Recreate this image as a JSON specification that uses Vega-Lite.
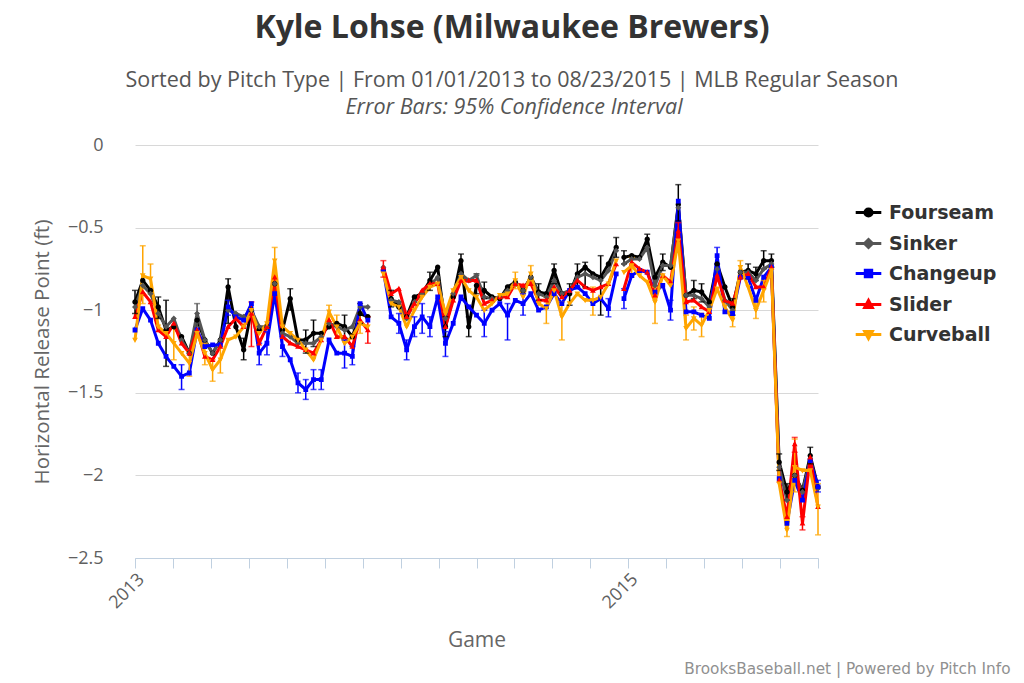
{
"$schema": "https://vega.github.io/schema/vega-lite/v6.json",
"width": 683, "height": 413,
"autosize": {"type": "none"},
"padding": {"left": 135, "top": 145, "right": 206, "bottom": 125},
"background": "white",
"config": {"view": {"stroke": null}, "font": "DejaVu Sans"},
"title": {"text": "Kyle Lohse (Milwaukee Brewers)", "subtitle": "Sorted by Pitch Type | From 01/01/2013 to 08/23/2015 | MLB Regular Season", "anchor": "middle", "dx": 35.5, "font": "Open Sans", "fontSize": 32, "fontWeight": "bold", "color": "#333333", "subtitleFont": "Open Sans", "subtitleFontSize": 21.5, "subtitleColor": "#555555", "subtitlePadding": 25, "offset": 4},
"datasets": {
"games": [
{"g":0,"s":2013,"Fourseam":-0.95,"Sinker":-0.98,"Changeup":-1.12,"Slider":-1.04,"Curveball":-1.18},
{"g":1,"s":2013,"Fourseam":-0.82,"Sinker":-0.85,"Changeup":-0.99,"Slider":-0.89,"Curveball":-0.79},
{"g":2,"s":2013,"Fourseam":-0.88,"Sinker":-0.9,"Changeup":-1.06,"Slider":-0.95,"Curveball":-0.81},
{"g":3,"s":2013,"Fourseam":-0.98,"Sinker":-1.02,"Changeup":-1.2,"Slider":-1.12,"Curveball":-1.1},
{"g":4,"s":2013,"Fourseam":-1.12,"Sinker":-1.1,"Changeup":-1.28,"Slider":-1.16,"Curveball":-1.14},
{"g":5,"s":2013,"Fourseam":-1.1,"Sinker":-1.05,"Changeup":-1.34,"Slider":-1.08,"Curveball":-1.2},
{"g":6,"s":2013,"Fourseam":-1.16,"Sinker":-1.18,"Changeup":-1.4,"Slider":-1.2,"Curveball":-1.26},
{"g":7,"s":2013,"Fourseam":-1.26,"Sinker":-1.26,"Changeup":-1.38,"Slider":-1.26,"Curveball":-1.32},
{"g":8,"s":2013,"Fourseam":-1.06,"Sinker":-1.02,"Changeup":-1.12,"Slider":-1.12,"Curveball":-1.14},
{"g":9,"s":2013,"Fourseam":-1.18,"Sinker":-1.18,"Changeup":-1.22,"Slider":-1.28,"Curveball":-1.26},
{"g":10,"s":2013,"Fourseam":-1.26,"Sinker":-1.26,"Changeup":-1.21,"Slider":-1.3,"Curveball":-1.36},
{"g":11,"s":2013,"Fourseam":-1.18,"Sinker":-1.18,"Changeup":-1.21,"Slider":-1.22,"Curveball":-1.3},
{"g":12,"s":2013,"Fourseam":-0.86,"Sinker":-1.0,"Changeup":-0.98,"Slider":-1.1,"Curveball":-1.18},
{"g":13,"s":2013,"Fourseam":-1.1,"Sinker":-1.02,"Changeup":-1.04,"Slider":-1.05,"Curveball":-1.16},
{"g":14,"s":2013,"Fourseam":-1.24,"Sinker":-1.04,"Changeup":-1.06,"Slider":-1.1,"Curveball":-1.1},
{"g":15,"s":2013,"Fourseam":-1.0,"Sinker":-1.0,"Changeup":-0.96,"Slider":-1.02,"Curveball":-1.0},
{"g":16,"s":2013,"Fourseam":-1.12,"Sinker":-1.1,"Changeup":-1.26,"Slider":-1.2,"Curveball":-1.14},
{"g":17,"s":2013,"Fourseam":-1.1,"Sinker":-1.1,"Changeup":-1.2,"Slider":-1.1,"Curveball":-1.08},
{"g":18,"s":2013,"Fourseam":-0.84,"Sinker":-0.84,"Changeup":-0.9,"Slider":-0.8,"Curveball":-0.7},
{"g":19,"s":2013,"Fourseam":-1.12,"Sinker":-1.14,"Changeup":-1.22,"Slider":-1.16,"Curveball":-1.1},
{"g":20,"s":2013,"Fourseam":-0.93,"Sinker":-1.16,"Changeup":-1.3,"Slider":-1.2,"Curveball":-1.14},
{"g":21,"s":2013,"Fourseam":-1.18,"Sinker":-1.2,"Changeup":-1.44,"Slider":-1.22,"Curveball":-1.18},
{"g":22,"s":2013,"Fourseam":-1.18,"Sinker":-1.2,"Changeup":-1.48,"Slider":-1.24,"Curveball":-1.24},
{"g":23,"s":2013,"Fourseam":-1.14,"Sinker":-1.2,"Changeup":-1.42,"Slider":-1.26,"Curveball":-1.3},
{"g":24,"s":2013,"Fourseam":-1.14,"Sinker":-1.16,"Changeup":-1.42,"Slider":-1.18,"Curveball":-1.18},
{"g":25,"s":2013,"Fourseam":-1.1,"Sinker":-1.08,"Changeup":-1.18,"Slider":-1.06,"Curveball":-1.01},
{"g":26,"s":2013,"Fourseam":-1.08,"Sinker":-1.1,"Changeup":-1.26,"Slider":-1.16,"Curveball":-1.1},
{"g":27,"s":2013,"Fourseam":-1.1,"Sinker":-1.12,"Changeup":-1.26,"Slider":-1.16,"Curveball":-1.2},
{"g":28,"s":2013,"Fourseam":-1.16,"Sinker":-1.1,"Changeup":-1.28,"Slider":-1.22,"Curveball":-1.16},
{"g":29,"s":2013,"Fourseam":-1.02,"Sinker":-0.98,"Changeup":-0.96,"Slider":-1.06,"Curveball":-1.08},
{"g":30,"s":2013,"Fourseam":-1.04,"Sinker":-0.98,"Changeup":-1.06,"Slider":-1.12,"Curveball":-1.1},
{"g":32,"s":2014,"Fourseam":-0.76,"Sinker":-0.74,"Changeup":-0.76,"Slider":-0.74,"Curveball":-0.78},
{"g":33,"s":2014,"Fourseam":-0.93,"Sinker":-0.94,"Changeup":-1.04,"Slider":-0.9,"Curveball":-0.96},
{"g":34,"s":2014,"Fourseam":-0.98,"Sinker":-0.95,"Changeup":-1.08,"Slider":-0.87,"Curveball":-0.98},
{"g":35,"s":2014,"Fourseam":-1.04,"Sinker":-1.05,"Changeup":-1.24,"Slider":-1.04,"Curveball":-1.1},
{"g":36,"s":2014,"Fourseam":-0.92,"Sinker":-0.95,"Changeup":-1.1,"Slider":-0.96,"Curveball":-1.0},
{"g":37,"s":2014,"Fourseam":-0.9,"Sinker":-0.9,"Changeup":-1.04,"Slider":-0.88,"Curveball":-0.92},
{"g":38,"s":2014,"Fourseam":-0.82,"Sinker":-0.85,"Changeup":-1.1,"Slider":-0.84,"Curveball":-0.86},
{"g":39,"s":2014,"Fourseam":-0.74,"Sinker":-0.8,"Changeup":-0.92,"Slider":-0.84,"Curveball":-0.84},
{"g":40,"s":2014,"Fourseam":-1.1,"Sinker":-1.05,"Changeup":-1.2,"Slider":-1.1,"Curveball":-1.02},
{"g":41,"s":2014,"Fourseam":-0.92,"Sinker":-0.9,"Changeup":-1.08,"Slider":-0.94,"Curveball":-0.88},
{"g":42,"s":2014,"Fourseam":-0.7,"Sinker":-0.78,"Changeup":-0.92,"Slider":-0.82,"Curveball":-0.8},
{"g":43,"s":2014,"Fourseam":-1.1,"Sinker":-0.82,"Changeup":-0.98,"Slider":-0.82,"Curveball":-0.88},
{"g":44,"s":2014,"Fourseam":-0.85,"Sinker":-0.79,"Changeup":-1.03,"Slider":-0.82,"Curveball":-0.92},
{"g":45,"s":2014,"Fourseam":-0.88,"Sinker":-0.92,"Changeup":-1.08,"Slider":-0.96,"Curveball":-1.0},
{"g":46,"s":2014,"Fourseam":-0.92,"Sinker":-0.93,"Changeup":-1.0,"Slider":-0.94,"Curveball":-0.96},
{"g":47,"s":2014,"Fourseam":-0.93,"Sinker":-0.92,"Changeup":-0.96,"Slider":-0.92,"Curveball":-0.91},
{"g":48,"s":2014,"Fourseam":-0.86,"Sinker":-0.88,"Changeup":-1.03,"Slider":-0.92,"Curveball":-0.9},
{"g":49,"s":2014,"Fourseam":-0.83,"Sinker":-0.84,"Changeup":-0.94,"Slider":-0.84,"Curveball":-0.82},
{"g":50,"s":2014,"Fourseam":-0.88,"Sinker":-0.88,"Changeup":-0.96,"Slider":-0.85,"Curveball":-0.92},
{"g":51,"s":2014,"Fourseam":-0.8,"Sinker":-0.8,"Changeup":-0.9,"Slider":-0.84,"Curveball":-0.78},
{"g":52,"s":2014,"Fourseam":-0.89,"Sinker":-0.9,"Changeup":-1.0,"Slider":-0.94,"Curveball":-0.96},
{"g":53,"s":2014,"Fourseam":-0.9,"Sinker":-0.92,"Changeup":-0.98,"Slider":-0.94,"Curveball":-0.99},
{"g":54,"s":2014,"Fourseam":-0.76,"Sinker":-0.82,"Changeup":-0.9,"Slider":-0.86,"Curveball":-0.88},
{"g":55,"s":2014,"Fourseam":-0.9,"Sinker":-0.9,"Changeup":-0.96,"Slider":-0.92,"Curveball":-1.04},
{"g":56,"s":2014,"Fourseam":-0.9,"Sinker":-0.88,"Changeup":-0.88,"Slider":-0.88,"Curveball":-0.96},
{"g":57,"s":2014,"Fourseam":-0.78,"Sinker":-0.8,"Changeup":-0.86,"Slider":-0.82,"Curveball":-0.9},
{"g":58,"s":2014,"Fourseam":-0.74,"Sinker":-0.78,"Changeup":-0.9,"Slider":-0.86,"Curveball":-0.94},
{"g":59,"s":2014,"Fourseam":-0.78,"Sinker":-0.8,"Changeup":-0.96,"Slider":-0.88,"Curveball":-0.94},
{"g":60,"s":2014,"Fourseam":-0.8,"Sinker":-0.82,"Changeup":-0.93,"Slider":-0.86,"Curveball":-0.92},
{"g":61,"s":2014,"Fourseam":-0.72,"Sinker":-0.76,"Changeup":-0.99,"Slider":-0.84,"Curveball":-0.84},
{"g":62,"s":2014,"Fourseam":-0.62,"Sinker":-0.64,"Changeup":-0.78,"Slider":-0.72,"Curveball":-0.7},
{"g":63,"s":2015,"Fourseam":-0.68,"Sinker":-0.72,"Changeup":-0.93,"Slider":-0.87,"Curveball":-0.77},
{"g":64,"s":2015,"Fourseam":-0.67,"Sinker":-0.69,"Changeup":-0.79,"Slider":-0.71,"Curveball":-0.73},
{"g":65,"s":2015,"Fourseam":-0.68,"Sinker":-0.69,"Changeup":-0.76,"Slider":-0.75,"Curveball":-0.79},
{"g":66,"s":2015,"Fourseam":-0.57,"Sinker":-0.62,"Changeup":-0.77,"Slider":-0.77,"Curveball":-0.83},
{"g":67,"s":2015,"Fourseam":-0.8,"Sinker":-0.85,"Changeup":-0.89,"Slider":-0.91,"Curveball":-0.95},
{"g":68,"s":2015,"Fourseam":-0.71,"Sinker":-0.73,"Changeup":-0.85,"Slider":-0.79,"Curveball":-0.79},
{"g":69,"s":2015,"Fourseam":-0.74,"Sinker":-0.73,"Changeup":-1.0,"Slider":-0.83,"Curveball":-0.85},
{"g":70,"s":2015,"Fourseam":-0.36,"Sinker":-0.38,"Changeup":-0.34,"Slider":-0.52,"Curveball":-0.58},
{"g":71,"s":2015,"Fourseam":-0.91,"Sinker":-0.91,"Changeup":-1.01,"Slider":-0.95,"Curveball":-1.11},
{"g":72,"s":2015,"Fourseam":-0.88,"Sinker":-0.91,"Changeup":-1.01,"Slider":-0.94,"Curveball":-1.05},
{"g":73,"s":2015,"Fourseam":-0.89,"Sinker":-0.93,"Changeup":-1.03,"Slider":-0.98,"Curveball":-1.09},
{"g":74,"s":2015,"Fourseam":-0.95,"Sinker":-0.98,"Changeup":-1.05,"Slider":-1.01,"Curveball":-1.0},
{"g":75,"s":2015,"Fourseam":-0.72,"Sinker":-0.75,"Changeup":-0.67,"Slider":-0.79,"Curveball":-0.87},
{"g":76,"s":2015,"Fourseam":-0.86,"Sinker":-0.94,"Changeup":-1.01,"Slider":-0.94,"Curveball":-0.98},
{"g":77,"s":2015,"Fourseam":-0.98,"Sinker":-1.0,"Changeup":-1.02,"Slider":-0.96,"Curveball":-1.06},
{"g":78,"s":2015,"Fourseam":-0.77,"Sinker":-0.77,"Changeup":-0.8,"Slider":-0.8,"Curveball":-0.74},
{"g":79,"s":2015,"Fourseam":-0.76,"Sinker":-0.77,"Changeup":-0.8,"Slider":-0.78,"Curveball":-0.86},
{"g":80,"s":2015,"Fourseam":-0.78,"Sinker":-0.82,"Changeup":-0.94,"Slider":-0.86,"Curveball":-1.0},
{"g":81,"s":2015,"Fourseam":-0.7,"Sinker":-0.75,"Changeup":-0.8,"Slider":-0.86,"Curveball":-0.88},
{"g":82,"s":2015,"Fourseam":-0.7,"Sinker":-0.72,"Changeup":-0.74,"Slider":-0.74,"Curveball":-0.76},
{"g":83,"s":2015,"Fourseam":-1.92,"Sinker":-1.95,"Changeup":-2.02,"Slider":-2.03,"Curveball":-2.05},
{"g":84,"s":2015,"Fourseam":-2.1,"Sinker":-2.15,"Changeup":-2.29,"Slider":-2.25,"Curveball":-2.33},
{"g":85,"s":2015,"Fourseam":-2.0,"Sinker":-2.0,"Changeup":-2.03,"Slider":-1.81,"Curveball":-1.95},
{"g":86,"s":2015,"Fourseam":-2.09,"Sinker":-2.1,"Changeup":-2.15,"Slider":-2.29,"Curveball":-1.97},
{"g":87,"s":2015,"Fourseam":-1.88,"Sinker":-1.9,"Changeup":-1.91,"Slider":-1.89,"Curveball":-1.97},
{"g":88,"s":2015,"Fourseam":-2.07,"Sinker":-2.08,"Changeup":-2.07,"Slider":-2.19,"Curveball":-2.19}
],
"err": [
{"g":0,"p":"Fourseam","l":-1.02,"h":-0.88},
{"g":1,"p":"Curveball","l":-0.96,"h":-0.61},
{"g":2,"p":"Curveball","l":-0.9,"h":-0.72},
{"g":3,"p":"Fourseam","l":-1.05,"h":-0.92},
{"g":4,"p":"Fourseam","l":-1.34,"h":-0.94},
{"g":5,"p":"Curveball","l":-1.3,"h":-1.1},
{"g":6,"p":"Changeup","l":-1.48,"h":-1.33},
{"g":7,"p":"Curveball","l":-1.4,"h":-1.25},
{"g":8,"p":"Sinker","l":-1.1,"h":-0.96},
{"g":9,"p":"Curveball","l":-1.33,"h":-1.2},
{"g":10,"p":"Curveball","l":-1.43,"h":-1.3},
{"g":11,"p":"Curveball","l":-1.38,"h":-1.22},
{"g":12,"p":"Fourseam","l":-1.08,"h":-0.81},
{"g":12,"p":"Changeup","l":-1.03,"h":-0.94},
{"g":14,"p":"Fourseam","l":-1.3,"h":-1.17},
{"g":15,"p":"Slider","l":-1.22,"h":-0.95},
{"g":16,"p":"Changeup","l":-1.33,"h":-1.2},
{"g":17,"p":"Changeup","l":-1.27,"h":-1.13},
{"g":18,"p":"Curveball","l":-0.8,"h":-0.62},
{"g":19,"p":"Changeup","l":-1.28,"h":-1.16},
{"g":20,"p":"Fourseam","l":-1.0,"h":-0.87},
{"g":21,"p":"Changeup","l":-1.5,"h":-1.38},
{"g":22,"p":"Changeup","l":-1.54,"h":-1.42},
{"g":22,"p":"Fourseam","l":-1.26,"h":-1.12},
{"g":23,"p":"Fourseam","l":-1.22,"h":-1.06},
{"g":23,"p":"Changeup","l":-1.48,"h":-1.36},
{"g":24,"p":"Changeup","l":-1.48,"h":-1.36},
{"g":25,"p":"Curveball","l":-1.07,"h":-0.97},
{"g":26,"p":"Curveball","l":-1.17,"h":-1.03},
{"g":27,"p":"Fourseam","l":-1.17,"h":-1.03},
{"g":27,"p":"Changeup","l":-1.35,"h":-1.18},
{"g":28,"p":"Changeup","l":-1.33,"h":-1.22},
{"g":29,"p":"Fourseam","l":-1.08,"h":-0.96},
{"g":29,"p":"Curveball","l":-1.14,"h":-1.02},
{"g":30,"p":"Slider","l":-1.2,"h":-1.04},
{"g":32,"p":"Slider","l":-0.8,"h":-0.7},
{"g":33,"p":"Fourseam","l":-0.98,"h":-0.88},
{"g":34,"p":"Changeup","l":-1.14,"h":-1.02},
{"g":35,"p":"Changeup","l":-1.3,"h":-1.18},
{"g":36,"p":"Changeup","l":-1.16,"h":-1.04},
{"g":37,"p":"Changeup","l":-1.14,"h":-0.96},
{"g":38,"p":"Fourseam","l":-0.88,"h":-0.77},
{"g":38,"p":"Changeup","l":-1.16,"h":-1.04},
{"g":40,"p":"Changeup","l":-1.28,"h":-1.13},
{"g":40,"p":"Fourseam","l":-1.16,"h":-1.04},
{"g":42,"p":"Fourseam","l":-0.77,"h":-0.66},
{"g":43,"p":"Fourseam","l":-1.16,"h":-1.04},
{"g":44,"p":"Fourseam","l":-0.9,"h":-0.78},
{"g":45,"p":"Changeup","l":-1.16,"h":-1.0},
{"g":45,"p":"Fourseam","l":-0.93,"h":-0.83},
{"g":48,"p":"Changeup","l":-1.18,"h":-0.96},
{"g":49,"p":"Curveball","l":-0.87,"h":-0.77},
{"g":50,"p":"Changeup","l":-1.03,"h":-0.9},
{"g":51,"p":"Curveball","l":-0.84,"h":-0.73},
{"g":52,"p":"Fourseam","l":-0.94,"h":-0.84},
{"g":53,"p":"Curveball","l":-1.08,"h":-0.92},
{"g":54,"p":"Fourseam","l":-0.84,"h":-0.72},
{"g":55,"p":"Curveball","l":-1.18,"h":-0.95},
{"g":56,"p":"Fourseam","l":-0.97,"h":-0.84},
{"g":57,"p":"Fourseam","l":-0.86,"h":-0.72},
{"g":58,"p":"Fourseam","l":-0.86,"h":-0.71},
{"g":59,"p":"Curveball","l":-1.03,"h":-0.86},
{"g":60,"p":"Fourseam","l":-1.03,"h":-0.67},
{"g":61,"p":"Changeup","l":-1.04,"h":-0.93},
{"g":62,"p":"Fourseam","l":-0.68,"h":-0.56},
{"g":63,"p":"Fourseam","l":-0.72,"h":-0.64},
{"g":63,"p":"Changeup","l":-0.99,"h":-0.87},
{"g":64,"p":"Curveball","l":-0.8,"h":-0.68},
{"g":66,"p":"Fourseam","l":-0.62,"h":-0.54},
{"g":67,"p":"Curveball","l":-1.08,"h":-0.86},
{"g":68,"p":"Fourseam","l":-0.76,"h":-0.66},
{"g":69,"p":"Changeup","l":-1.06,"h":-0.94},
{"g":70,"p":"Fourseam","l":-0.46,"h":-0.24},
{"g":70,"p":"Slider","l":-0.58,"h":-0.47},
{"g":71,"p":"Curveball","l":-1.18,"h":-1.03},
{"g":72,"p":"Fourseam","l":-0.93,"h":-0.82},
{"g":72,"p":"Curveball","l":-1.12,"h":-0.98},
{"g":73,"p":"Curveball","l":-1.16,"h":-1.02},
{"g":73,"p":"Fourseam","l":-0.95,"h":-0.84},
{"g":75,"p":"Changeup","l":-0.72,"h":-0.62},
{"g":77,"p":"Curveball","l":-1.1,"h":-1.0},
{"g":77,"p":"Fourseam","l":-1.03,"h":-0.93},
{"g":78,"p":"Curveball","l":-0.8,"h":-0.7},
{"g":79,"p":"Fourseam","l":-0.81,"h":-0.72},
{"g":80,"p":"Curveball","l":-1.05,"h":-0.94},
{"g":80,"p":"Fourseam","l":-0.82,"h":-0.74},
{"g":81,"p":"Fourseam","l":-0.75,"h":-0.64},
{"g":81,"p":"Curveball","l":-0.95,"h":-0.82},
{"g":82,"p":"Fourseam","l":-0.74,"h":-0.66},
{"g":83,"p":"Fourseam","l":-1.97,"h":-1.87},
{"g":84,"p":"Curveball","l":-2.37,"h":-2.28},
{"g":84,"p":"Fourseam","l":-2.15,"h":-2.05},
{"g":85,"p":"Curveball","l":-2.1,"h":-1.78},
{"g":85,"p":"Slider","l":-1.86,"h":-1.77},
{"g":86,"p":"Slider","l":-2.33,"h":-2.25},
{"g":87,"p":"Fourseam","l":-1.93,"h":-1.83},
{"g":88,"p":"Curveball","l":-2.36,"h":-2.05},
{"g":88,"p":"Changeup","l":-2.1,"h":-2.03}
]
},
"data": {"name": "games"},
"resolve": {"axis": {"x": "independent", "y": "independent"}},
"layer": [
{
"transform": [{"fold": ["Fourseam","Sinker","Changeup","Slider","Curveball"], "as": ["p","v"]}],
"mark": {"type": "line", "strokeWidth": 3, "strokeJoin": "round"},
"encoding": {
"x": {"field": "g", "type": "quantitative", "scale": {"domain": [0, 88], "nice": false, "zero": false},
 "axis": {"values": [0,4.889,9.778,14.667,19.556,24.444,29.333,34.222,39.111,44,48.889,53.778,58.667,63.556,68.444,73.333,78.222,83.111,88],
  "labelExpr": "datum.value == 0 ? '2013' : (abs(datum.value - 63.556) < 0.01 ? '2015' : '')",
  "labelOverlap": false, "labelFlush": false, "labelBound": false,
  "grid": false, "domainColor": "#C0D0E0", "domainWidth": 1, "tickColor": "#C0D0E0", "tickSize": 10, "tickWidth": 1,
  "labelAngle": -45, "labelFont": "Open Sans", "labelFontSize": 18, "labelColor": "#606060", "labelPadding": 2,
  "title": "Game", "titleFont": "Open Sans", "titleFontSize": 21, "titleFontWeight": "normal", "titleColor": "#666666", "titleY": 82, "titleBaseline": "middle"}},
"y": {"field": "v", "type": "quantitative", "scale": {"domain": [-2.5, 0], "nice": false, "zero": false},
 "axis": {"values": [0,-0.5,-1,-1.5,-2,-2.5], "format": "~g", "grid": true, "gridColor": "#d8d8d8", "gridWidth": 1, "domain": false, "ticks": false,
  "labelPadding": 32, "labelFont": "Open Sans", "labelFontSize": 18, "labelColor": "#606060",
  "title": "Horizontal Release Point (ft)", "titleFont": "Open Sans", "titleFontSize": 20.5, "titleFontWeight": "normal", "titleColor": "#666666",
  "titleX": -93, "titleY": 206.5, "titleAngle": -90, "titleBaseline": "middle", "titleAlign": "center"}},
"stroke": {"field": "p", "type": "nominal", "scale": {"domain": ["Curveball","Slider","Changeup","Sinker","Fourseam"], "range": ["#ffa500","#ff0000","#0000ff","#555555","#000000"]}, "legend": null},
"detail": {"field": "s"}
}
},
{
"data": {"name": "err"},
"mark": {"type": "rule", "strokeWidth": 1.5},
"encoding": {
"x": {"field": "g", "type": "quantitative", "scale": {"domain": [0, 88], "nice": false, "zero": false},
 "axis": {"orient": "top", "labels": false, "ticks": false, "domain": false, "grid": false,
  "title": "Error Bars: 95% Confidence Interval", "titleFont": "Open Sans", "titleFontStyle": "italic", "titleFontWeight": "normal", "titleFontSize": 21.5, "titleColor": "#555555",
  "titleX": 378.5, "titleY": -38, "titleBaseline": "middle", "titleAlign": "center"}},
"y": {"field": "l", "type": "quantitative", "axis": null},
"y2": {"field": "h"},
"stroke": {"field": "p", "type": "nominal", "legend": null}
}
},
{
"data": {"name": "err"},
"transform": [{"fold": ["l","h"], "as": ["k","cap"]}],
"mark": {"type": "tick", "orient": "horizontal", "size": 6, "thickness": 1.5},
"encoding": {
"x": {"field": "g", "type": "quantitative", "axis": null},
"y": {"field": "cap", "type": "quantitative", "axis": null},
"fill": {"field": "p", "type": "nominal", "scale": {"domain": ["Sinker","Fourseam","Changeup","Slider","Curveball"], "range": ["#555555","#000000","#0000ff","#ff0000","#ffa500"]}, "legend": null}
}
},
{
"transform": [{"fold": ["Fourseam","Sinker","Changeup","Slider","Curveball"], "as": ["p","v"]}],
"mark": {"type": "point", "filled": true, "size": 36, "opacity": 1},
"encoding": {
"x": {"field": "g", "type": "quantitative", "axis": null},
"y": {"field": "v", "type": "quantitative",
 "axis": {"orient": "right", "labels": false, "ticks": false, "domain": false, "grid": false,
  "title": "BrooksBaseball.net | Powered by Pitch Info", "titleAngle": 0, "titleX": 192, "titleY": 523, "titleAlign": "right", "titleBaseline": "middle",
  "titleFont": "DejaVu Sans", "titleFontSize": 15.3, "titleFontWeight": "normal", "titleColor": "#909090"}},
"color": {"field": "p", "type": "nominal", "scale": {"domain": ["Fourseam","Sinker","Changeup","Slider","Curveball"], "range": ["#000000","#555555","#0000ff","#ff0000","#ffa500"]},
 "legend": {"orient": "none", "legendX": 724, "legendY": 58, "title": null, "padding": 0, "symbolSize": 64, "symbolStrokeWidth": 3,
  "labelFont": "DejaVu Sans", "labelFontSize": 19, "labelFontWeight": "bold", "labelColor": "#333333", "labelOffset": 11, "rowPadding": 10}},
"shape": {"field": "p", "type": "nominal", "scale": {"domain": ["Fourseam","Sinker","Changeup","Slider","Curveball"],
 "range": ["M-3.2,0H3.2M0.9,0A0.9,0.9,0,1,1,-0.9,0A0.9,0.9,0,1,1,0.9,0Z", "M-3.2,0H3.2M0,-1L1,0L0,1L-1,0Z", "M-3.2,0H3.2M-0.8,-0.8H0.8V0.8H-0.8Z", "M-3.2,0H3.2M0,-1L0.95,0.75H-0.95Z", "M-3.2,0H3.2M0,1L0.95,-0.75H-0.95Z"]}}
}
},
{
"transform": [{"filter": "false"}],
"mark": {"type": "point", "filled": false, "opacity": 1},
"encoding": {
"x": {"field": "g", "type": "quantitative", "axis": null},
"y": {"field": "Fourseam", "type": "quantitative", "axis": null},
"color": {"field": "p", "type": "nominal"},
"shape": {"field": "p", "type": "nominal"}
}
}
]
}
